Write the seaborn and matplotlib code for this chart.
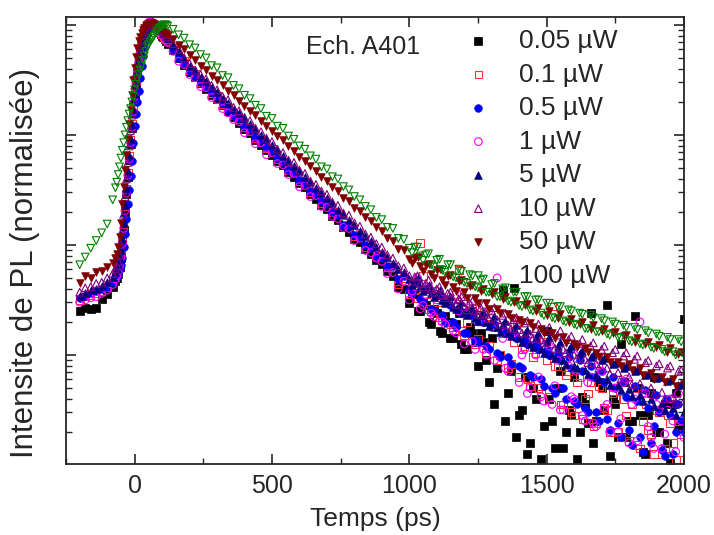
import numpy as np
import matplotlib
matplotlib.use("Agg")
import matplotlib.pyplot as plt
import seaborn as sns
from matplotlib.ticker import LogLocator, MultipleLocator, NullFormatter

# time axis (ps)
T = [-200, -180, -160, -140, -120, -100, -80,
     -70, -65, -60, -55, -50, -45, -40, -35, -30, -25,
     -20, -15, -10, -5, 0, 5, 10, 15, 20, 25,
     30, 35, 40, 45, 50, 55, 60, 65, 70, 75,
     80, 85, 90, 95, 100, 105, 110, 115, 120,
     140, 160, 180, 200, 220, 240, 260, 280, 300, 320,
     340, 360, 380, 400, 420, 440, 460, 480, 500, 520,
     540, 560, 580, 600, 620, 640, 660, 680, 700, 720,
     740, 760, 780, 800, 820, 840, 860, 880, 900, 920,
     940, 960, 980, 1000, 1020, 1040, 1060, 1080, 1100, 1120,
     1140, 1160, 1180, 1200, 1220, 1240, 1260, 1280, 1300, 1320,
     1340, 1360, 1380, 1400, 1420, 1440, 1460, 1480, 1500, 1520,
     1540, 1560, 1580, 1600, 1620, 1640, 1660, 1680, 1700, 1720,
     1740, 1760, 1780, 1800, 1820, 1840, 1860, 1880, 1900, 1920,
     1940, 1960, 1980, 2000]

# extra samples in the noisy tail (ps)
T_tail = [1010, 1030, 1050, 1070, 1090, 1110, 1130, 1150, 1170, 1190,
          1210, 1230, 1250, 1270, 1290, 1310, 1330, 1350, 1370, 1390,
          1410, 1430, 1450, 1470, 1490, 1510, 1530, 1550, 1570, 1590,
          1610, 1630, 1650, 1670, 1690, 1710, 1730, 1750, 1770, 1790,
          1810, 1830, 1850, 1870, 1890, 1910, 1930, 1950, 1970, 1990]

# log10 of normalised PL intensity
log_005uW = [-2.60, -2.57, -2.58, -2.57, -2.49, -2.45, -2.38,
             -2.33, -2.30, -2.26, -2.20, -2.12, -2.00, -1.86, -1.70, -1.54, -1.38,
             -1.23, -1.08, -0.94, -0.80, -0.67, -0.55, -0.44, -0.35, -0.27, -0.20,
             -0.14, -0.09, -0.05, -0.02, 0.00, 0.01, 0.02, 0.01, 0.00, -0.01,
             -0.03, -0.04, -0.06, -0.08, -0.10, -0.11, -0.13, -0.15, -0.17,
             -0.23, -0.30, -0.36, -0.43, -0.47, -0.53, -0.58, -0.64, -0.67, -0.73,
             -0.78, -0.84, -0.89, -0.95, -0.98, -1.05, -1.09, -1.14, -1.18, -1.24,
             -1.27, -1.34, -1.38, -1.44, -1.47, -1.54, -1.58, -1.64, -1.67, -1.74,
             -1.77, -1.84, -1.88, -1.95, -1.97, -2.04, -2.08, -2.14, -2.17, -2.24,
             -2.28, -2.38, -2.40, -2.53, -2.45, -2.60, -2.55, -2.72, -2.62, -2.80,
             -2.70, -2.85, -2.62, -2.95, -2.75, -2.88, -2.80, -3.05, -2.85, -3.12,
             -2.41, -3.35, -2.39, -3.55, -3.20, -3.80, -3.40, -3.95, -2.78, -3.60,
             -3.30, -3.85, -3.50, -3.20, -3.70, -3.45, -2.62, -3.60, -3.30, -2.55,
             -3.40, -3.75, -3.25, -3.60, -2.65, -3.55, -3.90, -3.35, -3.70, -3.50,
             -3.80, -3.45, -3.65, -2.67]
tail_005uW = [-2.45, -2.60, -2.52, -2.70, -2.58, -2.78, -2.65, -2.85, -2.72, -2.90,
              -2.95, -2.80, -3.10, -2.88, -3.25, -3.45, -3.00, -3.60, -3.15, -3.75,
              -3.50, -3.90, -3.30, -4.05, -3.65, -3.40, -3.85, -3.15, -3.70, -3.55,
              -3.95, -3.38, -3.62, -3.80, -3.25, -3.50, -3.92, -3.45, -2.90, -3.75,
              -3.60, -3.30, -3.88, -3.55, -3.20, -3.70, -3.45, -3.98, -3.35, -3.65]

log_01uW = [-2.50, -2.47, -2.46, -2.44, -2.42, -2.38, -2.33,
            -2.29, -2.26, -2.22, -2.16, -2.08, -1.96, -1.81, -1.65, -1.49, -1.34,
            -1.19, -1.04, -0.90, -0.76, -0.63, -0.51, -0.40, -0.31, -0.23, -0.16,
            -0.11, -0.06, -0.03, 0.00, 0.01, 0.02, 0.02, 0.01, 0.00, -0.01,
            -0.02, -0.04, -0.05, -0.07, -0.08, -0.10, -0.12, -0.13, -0.15,
            -0.21, -0.28, -0.33, -0.41, -0.44, -0.52, -0.55, -0.62, -0.64, -0.72,
            -0.75, -0.82, -0.86, -0.93, -0.94, -1.03, -1.04, -1.12, -1.13, -1.22,
            -1.24, -1.32, -1.33, -1.42, -1.43, -1.52, -1.52, -1.62, -1.62, -1.70,
            -1.72, -1.80, -1.82, -1.92, -1.91, -2.02, -2.00, -2.10, -2.10, -2.20,
            -2.20, -2.36, -2.30, -2.45, -2.40, -1.98, -2.45, -2.60, -2.52, -2.68,
            -2.52, -2.75, -2.23, -2.82, -2.60, -2.90, -2.65, -2.98, -2.72, -3.05,
            -2.80, -3.12, -2.88, -3.20, -2.92, -3.28, -2.98, -3.35, -3.05, -2.56,
            -3.10, -3.45, -3.15, -3.55, -3.20, -3.40, -3.25, -3.62, -3.30, -3.50,
            -3.35, -3.70, -3.40, -3.78, -3.30, -3.85, -3.45, -3.72, -3.50, -3.90,
            -3.55, -3.80, -3.60, -3.95]
tail_01uW = [-2.35, -2.48, -2.28, -2.58, -2.42, -2.66, -2.50, -2.72, -2.45, -2.78,
             -2.70, -2.58, -2.85, -2.62, -2.92, -2.75, -3.00, -2.80, -3.08, -2.72,
             -2.95, -3.22, -3.02, -3.30, -2.88, -3.38, -3.10, -3.45, -3.18, -3.52,
             -3.25, -3.58, -3.35, -3.65, -3.28, -3.48, -3.70, -3.40, -3.75, -3.55,
             -3.45, -3.82, -3.60, -3.68, -3.90, -3.52, -3.85, -3.62, -3.95, -3.72]

log_05uW = [-2.48, -2.46, -2.44, -2.42, -2.40, -2.38, -2.34,
            -2.31, -2.29, -2.26, -2.22, -2.18, -2.12, -2.02, -1.90, -1.76, -1.63,
            -1.50, -1.37, -1.24, -1.07, -0.92, -0.81, -0.70, -0.60, -0.48, -0.37,
            -0.28, -0.20, -0.14, -0.09, -0.05, -0.02, 0.00, 0.01, 0.00, -0.01,
            -0.02, -0.03, -0.04, -0.05, -0.06, -0.08, -0.10, -0.11, -0.13,
            -0.22, -0.30, -0.35, -0.42, -0.46, -0.52, -0.56, -0.61, -0.65, -0.71,
            -0.77, -0.83, -0.85, -0.92, -0.95, -1.02, -1.05, -1.11, -1.14, -1.21,
            -1.25, -1.32, -1.35, -1.41, -1.44, -1.51, -1.54, -1.60, -1.63, -1.70,
            -1.73, -1.82, -1.83, -1.91, -1.93, -2.00, -2.03, -2.10, -2.12, -2.19,
            -2.19, -2.31, -2.28, -2.41, -2.35, -2.49, -2.40, -2.58, -2.46, -2.64,
            -2.52, -2.70, -2.58, -2.80, -2.62, -2.86, -2.68, -2.92, -2.72, -2.98,
            -2.78, -3.02, -2.80, -3.10, -2.86, -3.18, -2.90, -3.22, -2.95, -3.30,
            -2.98, -3.30, -3.02, -3.42, -3.05, -3.48, -3.10, -3.52, -3.15, -3.58,
            -3.20, -3.62, -3.24, -3.68, -3.28, -3.75, -3.32, -3.80, -3.36, -3.86,
            -3.40, -3.90, -3.45, -3.70]
tail_05uW = [-2.45, -2.32, -2.52, -2.40, -2.60, -2.45, -2.70, -2.55, -2.75, -2.62,
             -2.80, -2.64, -2.88, -2.70, -2.95, -2.72, -3.02, -2.80, -3.08, -2.85,
             -3.12, -2.90, -3.20, -2.95, -3.28, -3.00, -3.35, -3.05, -3.40, -3.12,
             -3.45, -3.15, -3.52, -3.20, -3.60, -3.25, -3.68, -3.30, -3.75, -3.38,
             -3.82, -3.42, -3.88, -3.48, -3.65, -3.52, -3.92, -3.55, -3.70, -3.60]

log_1uW = [-2.52, -2.50, -2.48, -2.47, -2.44, -2.41, -2.36,
           -2.31, -2.28, -2.24, -2.19, -2.11, -1.99, -1.85, -1.69, -1.53, -1.37,
           -1.22, -1.07, -0.93, -0.79, -0.65, -0.53, -0.42, -0.33, -0.25, -0.18,
           -0.12, -0.07, -0.03, 0.00, 0.02, 0.03, 0.03, 0.02, 0.01, 0.00,
           -0.02, -0.03, -0.05, -0.07, -0.09, -0.10, -0.12, -0.14, -0.16,
           -0.24, -0.33, -0.36, -0.45, -0.48, -0.56, -0.57, -0.66, -0.68, -0.76,
           -0.80, -0.86, -0.88, -0.98, -0.97, -1.08, -1.07, -1.18, -1.16, -1.26,
           -1.27, -1.36, -1.35, -1.47, -1.46, -1.56, -1.55, -1.65, -1.66, -1.74,
           -1.76, -1.84, -1.85, -1.96, -1.94, -2.05, -2.07, -2.12, -2.15, -2.26,
           -2.25, -2.40, -2.33, -2.50, -2.38, -2.58, -2.45, -2.62, -2.50, -2.70,
           -2.50, -2.78, -2.60, -2.90, -2.55, -2.95, -2.70, -3.00, -2.75, -2.30,
           -2.85, -3.15, -2.80, -3.25, -2.95, -3.30, -3.00, -3.38, -2.90, -3.45,
           -3.05, -3.50, -3.10, -3.40, -2.95, -3.60, -3.20, -3.65, -3.15, -3.45,
           -3.30, -3.70, -3.25, -3.80, -3.40, -2.70, -3.35, -3.75, -3.45, -3.85,
           -3.50, -3.60, -3.35, -3.75]
tail_1uW = [-2.42, -2.30, -2.55, -2.38, -2.65, -2.48, -2.72, -2.52, -2.80, -2.45,
            -2.62, -2.88, -2.70, -2.95, -2.60, -3.05, -2.75, -3.12, -2.82, -2.68,
            -3.00, -3.35, -2.85, -3.20, -3.42, -2.92, -3.28, -3.50, -3.05, -3.38,
            -3.15, -3.55, -3.25, -3.62, -3.10, -3.48, -3.70, -3.30, -3.58, -3.22,
            -3.45, -3.78, -3.35, -3.65, -3.85, -3.50, -3.72, -3.40, -3.88, -3.60]

log_5uW = [-2.46, -2.44, -2.41, -2.40, -2.37, -2.34, -2.29,
           -2.25, -2.22, -2.18, -2.13, -2.05, -1.94, -1.80, -1.64, -1.48, -1.33,
           -1.18, -1.04, -0.90, -0.76, -0.63, -0.51, -0.41, -0.32, -0.24, -0.17,
           -0.12, -0.07, -0.04, -0.01, 0.01, 0.02, 0.02, 0.02, 0.02, 0.01,
           0.00, -0.01, -0.03, -0.04, -0.05, -0.07, -0.08, -0.10, -0.12,
           -0.18, -0.24, -0.30, -0.37, -0.41, -0.47, -0.51, -0.56, -0.61, -0.66,
           -0.71, -0.76, -0.80, -0.85, -0.90, -0.95, -1.00, -1.04, -1.09, -1.14,
           -1.19, -1.24, -1.28, -1.33, -1.38, -1.43, -1.48, -1.53, -1.57, -1.62,
           -1.68, -1.72, -1.77, -1.82, -1.87, -1.92, -1.96, -2.02, -2.06, -2.11,
           -2.16, -2.22, -2.25, -2.31, -2.33, -2.38, -2.40, -2.44, -2.45, -2.50,
           -2.51, -2.56, -2.55, -2.61, -2.60, -2.66, -2.64, -2.70, -2.68, -2.75,
           -2.72, -2.80, -2.76, -2.85, -2.80, -2.90, -2.84, -2.95, -2.87, -3.00,
           -2.92, -3.05, -2.95, -3.10, -2.98, -3.14, -3.02, -3.18, -3.05, -3.22,
           -3.08, -3.27, -3.12, -3.31, -3.15, -3.36, -3.18, -3.40, -3.21, -3.44,
           -3.24, -3.48, -3.27, -3.52]
tail_5uW = [-2.36, -2.30, -2.42, -2.36, -2.47, -2.41, -2.53, -2.46, -2.58, -2.52,
            -2.64, -2.57, -2.69, -2.61, -2.74, -2.65, -2.79, -2.69, -2.83, -2.73,
            -2.88, -2.77, -2.93, -2.80, -2.98, -2.84, -3.03, -2.88, -3.08, -2.92,
            -3.12, -2.96, -3.17, -3.00, -3.22, -3.03, -3.27, -3.07, -3.32, -3.10,
            -3.37, -3.14, -3.42, -3.17, -3.46, -3.20, -3.50, -3.23, -3.55, -3.26]

log_10uW = [-2.43, -2.39, -2.38, -2.35, -2.34, -2.30, -2.26,
            -2.22, -2.19, -2.15, -2.09, -2.00, -1.87, -1.72, -1.56, -1.40, -1.25,
            -1.10, -0.96, -0.82, -0.68, -0.55, -0.44, -0.34, -0.26, -0.19, -0.13,
            -0.09, -0.05, -0.02, 0.00, 0.01, 0.02, 0.02, 0.02, 0.02, 0.01,
            0.00, -0.01, -0.02, -0.03, -0.05, -0.06, -0.08, -0.09, -0.11,
            -0.17, -0.22, -0.30, -0.35, -0.41, -0.45, -0.49, -0.55, -0.59, -0.65,
            -0.68, -0.75, -0.78, -0.84, -0.87, -0.94, -0.97, -1.03, -1.06, -1.13,
            -1.16, -1.23, -1.25, -1.32, -1.35, -1.42, -1.45, -1.51, -1.54, -1.61,
            -1.64, -1.71, -1.73, -1.80, -1.83, -1.90, -1.93, -1.99, -2.02, -2.09,
            -2.12, -2.19, -2.21, -2.28, -2.29, -2.35, -2.35, -2.40, -2.40, -2.45,
            -2.44, -2.50, -2.49, -2.56, -2.53, -2.60, -2.57, -2.63, -2.60, -2.68,
            -2.64, -2.73, -2.68, -2.77, -2.71, -2.81, -2.76, -2.86, -2.78, -2.90,
            -2.82, -2.95, -2.86, -3.00, -2.90, -3.04, -2.92, -3.08, -2.95, -3.12,
            -2.98, -3.16, -3.01, -3.20, -3.04, -3.26, -3.07, -3.30, -3.10, -3.34,
            -3.12, -3.38, -3.15, -3.42]
tail_10uW = [-2.33, -2.28, -2.38, -2.32, -2.43, -2.38, -2.48, -2.43, -2.54, -2.47,
             -2.59, -2.51, -2.63, -2.54, -2.67, -2.57, -2.72, -2.62, -2.76, -2.66,
             -2.80, -2.69, -2.85, -2.72, -2.89, -2.75, -2.94, -2.78, -2.98, -2.83,
             -3.03, -2.86, -3.07, -2.89, -3.12, -2.92, -3.17, -2.95, -3.22, -2.98,
             -3.27, -3.01, -3.31, -3.05, -3.36, -3.08, -3.40, -3.10, -3.44, -3.14]

log_50uW = [-2.35, -2.28, -2.30, -2.25, -2.24, -2.20, -2.16,
            -2.12, -2.08, -2.02, -1.93, -1.80, -1.63, -1.47, -1.32, -1.18, -1.04,
            -0.90, -0.77, -0.64, -0.50, -0.39, -0.29, -0.21, -0.15, -0.11, -0.07,
            -0.05, -0.03, -0.01, 0.00, 0.01, 0.02, 0.02, 0.02, 0.01, 0.00,
            -0.01, -0.02, -0.03, -0.04, -0.05, -0.06, -0.07, -0.08, -0.09,
            -0.13, -0.18, -0.22, -0.27, -0.32, -0.37, -0.41, -0.46, -0.50, -0.55,
            -0.60, -0.64, -0.69, -0.74, -0.78, -0.82, -0.87, -0.92, -0.96, -1.01,
            -1.05, -1.10, -1.15, -1.20, -1.24, -1.28, -1.33, -1.38, -1.42, -1.47,
            -1.51, -1.57, -1.60, -1.66, -1.69, -1.75, -1.78, -1.84, -1.87, -1.94,
            -1.96, -2.04, -2.05, -2.13, -2.12, -2.19, -2.18, -2.26, -2.23, -2.32,
            -2.28, -2.38, -2.33, -2.43, -2.37, -2.48, -2.42, -2.53, -2.45, -2.58,
            -2.49, -2.63, -2.52, -2.68, -2.55, -2.71, -2.60, -2.76, -2.64, -2.80,
            -2.66, -2.84, -2.70, -2.90, -2.72, -2.94, -2.76, -2.98, -2.78, -3.02,
            -2.80, -3.06, -2.83, -3.08, -2.88, -3.12, -2.90, -3.16, -2.93, -3.20,
            -2.97, -3.22, -2.99, -3.26]
tail_50uW = [-2.16, -2.11, -2.24, -2.17, -2.30, -2.22, -2.36, -2.27, -2.42, -2.32,
             -2.48, -2.36, -2.53, -2.40, -2.58, -2.43, -2.62, -2.47, -2.66, -2.51,
             -2.70, -2.54, -2.75, -2.57, -2.80, -2.60, -2.85, -2.63, -2.89, -2.67,
             -2.93, -2.70, -2.97, -2.73, -3.02, -2.76, -3.06, -2.79, -3.10, -2.82,
             -3.14, -2.85, -3.18, -2.88, -3.22, -2.91, -3.25, -2.94, -3.28, -2.97]

log_100uW = [-2.18, -2.11, -2.03, -1.96, -1.89, -1.81, -1.59,
             -1.48, -1.43, -1.36, -1.29, -1.21, -1.14, -1.07, -1.00, -0.93, -0.87,
             -0.81, -0.76, -0.70, -0.65, -0.59, -0.54, -0.49, -0.45, -0.41, -0.37,
             -0.32, -0.28, -0.24, -0.20, -0.18, -0.16, -0.14, -0.12, -0.10, -0.08,
             -0.06, -0.05, -0.03, -0.02, -0.01, 0.00, 0.00, 0.00, -0.01,
             -0.04, -0.09, -0.12, -0.18, -0.21, -0.27, -0.30, -0.37, -0.39, -0.46,
             -0.48, -0.55, -0.58, -0.64, -0.67, -0.73, -0.76, -0.83, -0.85, -0.92,
             -0.94, -1.01, -1.04, -1.10, -1.13, -1.19, -1.22, -1.29, -1.31, -1.38,
             -1.40, -1.47, -1.50, -1.56, -1.59, -1.65, -1.68, -1.75, -1.77, -1.84,
             -1.85, -1.94, -1.95, -2.03, -2.02, -2.10, -2.09, -2.18, -2.14, -2.23,
             -2.18, -2.29, -2.22, -2.34, -2.27, -2.38, -2.32, -2.43, -2.36, -2.47,
             -2.40, -2.51, -2.43, -2.55, -2.47, -2.59, -2.50, -2.62, -2.53, -2.66,
             -2.56, -2.69, -2.59, -2.72, -2.62, -2.76, -2.64, -2.79, -2.67, -2.81,
             -2.70, -2.84, -2.73, -2.87, -2.75, -2.90, -2.78, -2.93, -2.81, -2.95,
             -2.84, -2.97, -2.86, -3.00]
tail_100uW = [-2.07, -2.02, -2.14, -2.08, -2.20, -2.13, -2.25, -2.18, -2.30, -2.24,
              -2.35, -2.28, -2.39, -2.31, -2.43, -2.35, -2.47, -2.39, -2.52, -2.43,
              -2.56, -2.47, -2.60, -2.50, -2.64, -2.53, -2.67, -2.56, -2.70, -2.60,
              -2.73, -2.63, -2.76, -2.66, -2.79, -2.69, -2.82, -2.72, -2.85, -2.75,
              -2.88, -2.77, -2.91, -2.80, -2.94, -2.83, -2.97, -2.86, -3.00, -2.88]

labels = ["0.05 µW", "0.1 µW", "0.5 µW", "1 µW", "5 µW", "10 µW", "50 µW", "100 µW"]
values = [log_005uW, log_01uW, log_05uW, log_1uW, log_5uW, log_10uW, log_50uW, log_100uW]
tails = [tail_005uW, tail_01uW, tail_05uW, tail_1uW, tail_5uW, tail_10uW, tail_50uW, tail_100uW]
markers = ["s", "s", "o", "o", "^", "^", "v", "v"]
colors = ["#000000", "#ff3030", "#0000ff", "#ff00ff", "#000080", "#800080", "#800000", "#008000"]
filled = [True, False, True, False, True, False, True, False]

sns.set_style("ticks")
plt.rcParams["font.family"] = ["Liberation Sans", "DejaVu Sans"]

fig = plt.figure(figsize=(7.14, 5.35), dpi=100)
ax = fig.add_axes([0.0924, 0.1327, 0.8655, 0.8355])
ax.set_yscale("log")

for lab, vals, tail, m, c, f in zip(labels, values, tails, markers, colors, filled):
    assert len(vals) == len(T), (lab, len(vals))
    assert len(tail) == len(T_tail), (lab, len(tail))
    x = T + T_tail
    y = 10 ** np.asarray(vals + tail)
    if f:
        sns.scatterplot(x=x, y=y, ax=ax, marker=m, s=30, color=c,
                        edgecolor=c, linewidth=0.5, label=lab, legend=False)
    else:
        sns.scatterplot(x=x, y=y, ax=ax, marker=m, s=30, color=c,
                        facecolor="none", edgecolor=c, linewidth=0.8,
                        label=lab, legend=False)

ax.set_xlim(-250, 2000)
ax.set_ylim(1.02e-4, 1.18)
ax.xaxis.set_major_locator(MultipleLocator(500))
ax.xaxis.set_minor_locator(MultipleLocator(250))
ax.yaxis.set_major_locator(LogLocator(base=10, numticks=10))
ax.yaxis.set_minor_locator(LogLocator(base=10, subs=np.arange(2, 10), numticks=20))
ax.yaxis.set_major_formatter(NullFormatter())
ax.yaxis.set_minor_formatter(NullFormatter())

ax.tick_params(which="both", direction="in", top=True, right=True)
ax.tick_params(which="major", length=7, width=1.2, labelsize=18, pad=7)
ax.tick_params(which="minor", length=4, width=1.0)
for sp in ax.spines.values():
    sp.set_linewidth(1.3)

ax.set_xlabel("Temps (ps)", fontsize=19, labelpad=7)
ax.set_ylabel("Intensite de PL (normalisée)", fontsize=22.5)
ax.yaxis.set_label_coords(-0.042, 0.45)

ax.text(0.388, 0.933, "Ech. A401", transform=ax.transAxes, fontsize=18, va="center")

ax.legend(loc="upper left", bbox_to_anchor=(0.646, 0.973), frameon=False,
          fontsize=19, handlelength=1.0, handletextpad=1.05, labelspacing=0.36,
          borderaxespad=0, borderpad=0, markerscale=1.0)

fig.savefig("out.png", dpi=100)
